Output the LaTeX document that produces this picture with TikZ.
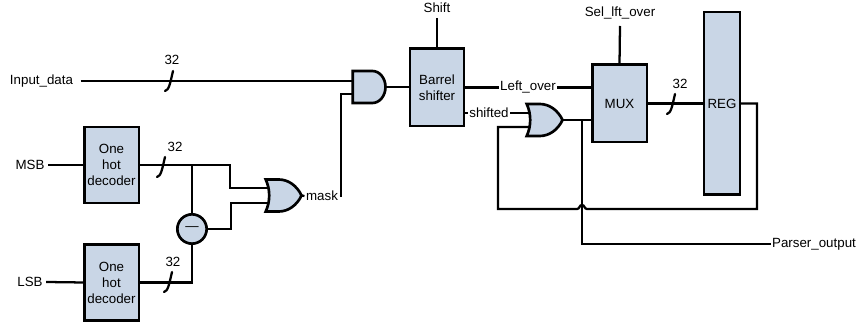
\documentclass[tikz,border=0pt]{standalone}
\usepackage{fontspec}
\setmainfont{Liberation Sans}
\usetikzlibrary{backgrounds, shapes.gates.logic.US}
\definecolor{blockfill}{HTML}{C9D6E6}
\tikzset{
  wire/.style = {line width = 1.7pt},
  blockbox/.style = {draw, fill = blockfill, line width = 2pt, align = center, outer sep = 0, inner sep = 0},
  gatebox/.style = {draw, fill = blockfill, line width = 2pt, outer sep = 0, inner sep = 0, logic gate inputs = nn,
    logic gate input sep = 4pt, minimum width = 23pt, minimum height = 19.5pt, transform shape, xscale = .82},
  lbl/.style = {inner sep = 1pt},
  bustick/.pic = {\draw[wire, line cap = round] (-5,10) .. controls (-1,9) and (0,3) .. (3,-10);}
}
\begin{document}
\begin{tikzpicture}[x = .75pt, y = -.75pt]
\useasboundingbox (0,0) rectangle (857,327);

% blocks
\node[blockbox, minimum width = 41pt, minimum height = 57pt] (msbdec) at (111.5,165) {One\\hot\\decoder};
\node[blockbox, minimum width = 41pt, minimum height = 57pt] (lsbdec) at (111.5,282.5) {One\\hot\\decoder};
\node[blockbox, circle, minimum size = 22pt] (sub) at (192,229) {—};
\node[blockbox, minimum width = 40.5pt, minimum height = 58pt] (barrel) at (437,87.5) {Barrel\\shifter};
\node[blockbox, minimum width = 41pt, minimum height = 58pt] (mux) at (619.5,103.5) {MUX};
\node[blockbox, minimum width = 27pt, minimum height = 137pt] (reg) at (722,103.5) {REG};

% gates
\node[and gate US, gatebox] (andg) at (368,87) {};
\node[or gate US, gatebox] (org) at (281,195.5) {};
\node[or gate US, gatebox] (orfb) at (542,120) {};

% labels
\node[lbl] (indata) at (41.5,81) {Input\_data};
\node[lbl] (msb) at (30,165) {MSB};
\node[lbl] (lsb) at (30,282) {LSB};
\node[lbl] (mask) at (322,196) {mask};
\node[lbl] (shift) at (437,8) {Shift};
\node[lbl] (sel) at (620,13) {Sel\_lft\_over};
\node[lbl] (leftover) at (528,87.5) {Left\_over};
\node[lbl] (shifted) at (489,113) {shifted};
\node[lbl] (parser) at (814,244) {Parser\_output};
\node[lbl] (widtha) at (172,60) {32};
\node[lbl] (widthb) at (175,147) {32};
\node[lbl] (widthc) at (173,262) {32};
\node[lbl] (widthd) at (680,84) {32};

% bends
\coordinate (shifttop) at (437,18);
\coordinate (seltop) at (620,26);
\coordinate (split) at (192,165);
\coordinate (orup) at (230,188);
\coordinate (ordown) at (231,203);
\coordinate (maskup) at (341,94);
\coordinate (fbkin) at (498,127);
\coordinate (fbkleft) at (498,209);
\coordinate (fbkright) at (757,209);
\coordinate (fbkreg) at (757,103.5);
\coordinate (tap) at (582,120);
\coordinate (tapdown) at (582,244);

% wires run under the gates
\begin{scope}[on background layer]
\draw[wire] (indata.east) ++(6,0) -- (andg.center |- indata);
\draw[wire] (msb.east) ++(2,0) -- (msbdec.west);
\draw[wire] (lsb.east) ++(2,0) -- (lsbdec.west);
\draw[wire] (msbdec.east) -| (orup) -- (org.center |- orup);
\draw[wire] (split) -- (sub.north);
\draw[wire] (lsbdec.east) -| (sub.south);
\draw[wire] (sub.east) -| (ordown) -- (org.center |- ordown);
\draw[wire] (org.output) -- (mask.west);
\draw[wire] (mask.east) -| (maskup) -- (andg.center |- maskup);
\draw[wire] (andg.output) -- (barrel.west |- andg.output);
\draw[wire] (shifttop) -- (barrel.north);
\draw[wire] (barrel.east |- leftover) -- (leftover.west);
\draw[wire] (leftover.east) -- (mux.west |- leftover);
\draw[wire] (barrel.east |- shifted) -- (shifted.west);
\draw[wire] (shifted.east) -- (orfb.center |- shifted);
\draw[wire] (orfb.center |- fbkin) -- (fbkin) -- (fbkleft) -- (577,209) .. controls (580,209) and (579,205) .. (582,205)
  .. controls (585,205) and (584,209) .. (587,209) -- (fbkright) -- (fbkreg) -- (reg.east);
\draw[wire] (orfb.output) -- (mux.west |- orfb.output);
\draw[wire] (tap) -- (tapdown) -- (parser.west);
\draw[wire] (seltop) -- (mux.north);
\draw[wire] (mux.east) -- (reg.west);
\end{scope}

% width marks
\pic at (170,81) {bustick};
\pic at (162,167) {bustick};
\pic at (169,282) {bustick};
\pic at (672,104) {bustick};
\end{tikzpicture}
\end{document}
